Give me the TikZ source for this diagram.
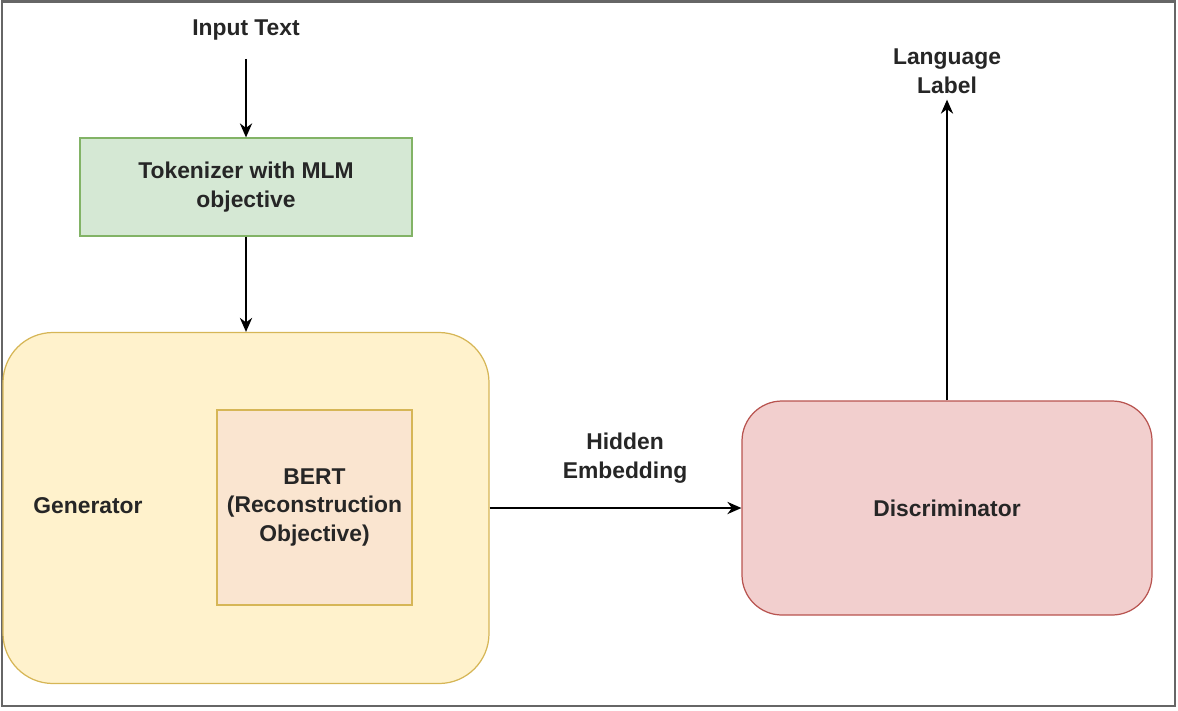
\documentclass[tikz,border=0pt]{standalone}
\usepackage{fontspec}
\setmainfont{Liberation Sans}
\usetikzlibrary{positioning,arrows.meta}

\definecolor{tokfill}{HTML}{D5E8D4}
\definecolor{tokline}{HTML}{82B366}
\definecolor{genfill}{HTML}{FFF2CC}
\definecolor{genline}{HTML}{D6B656}
\definecolor{bertfill}{HTML}{FAE5D0}
\definecolor{discfill}{HTML}{F2CFCE}
\definecolor{discline}{HTML}{B85450}

\tikzset{
  txt/.style={font=\fontsize{13}{16.5}\selectfont\bfseries, align=center, text=black!85},
  box/.style={txt, draw, line width=0.7pt, inner sep=0pt},
  flow/.style={-{Stealth[length=8pt,width=7pt]}, line width=0.8pt}
}

\begin{document}
\begin{tikzpicture}[auto,node distance=1cm]

	\useasboundingbox (0,0) rectangle (23.56,-14.2);
	\draw[gray!80!black, line width=1.2pt] (0.04,-0.03) rectangle (23.5,-14.12);

	\node[txt] (input) at (4.92, -0.6) {Input Text};
	\node[box, fill=tokfill, draw=tokline, minimum width=6.64cm, minimum height=1.96cm] (tok) at (4.92, -3.74) {Tokenizer with MLM\\objective};
	\draw (input) edge[flow, shorten <=0.25cm] node {} (tok);

	\node[box, fill=genfill, draw=genline, rounded corners=1cm, minimum width=9.72cm, minimum height=7.02cm] (gen) at (4.92, -10.16) {};
	\node[txt] (genname) at (1.76, -10.12) {Generator};
	\node[box, fill=bertfill, draw=genline, minimum width=3.9cm, minimum height=3.9cm] (bert) at (6.29, -10.15) {BERT\\(Reconstruction\\Objective)};
	\draw (tok) edge[flow] node {} (gen);

	\node[box, fill=discfill, draw=discline, rounded corners=0.8cm, minimum width=8.2cm, minimum height=4.28cm] (disc) at (18.94, -10.16) {Discriminator};
	\node[txt] (hidden) at (12.5, -9.16) {Hidden\\Embedding};
	\draw (gen) edge[flow] node {} (disc);

	\node[txt] (lang) at (18.94, -1.42) {Language\\Label};
	\draw (disc) edge[flow] node {} (lang);

\end{tikzpicture}
\end{document}
